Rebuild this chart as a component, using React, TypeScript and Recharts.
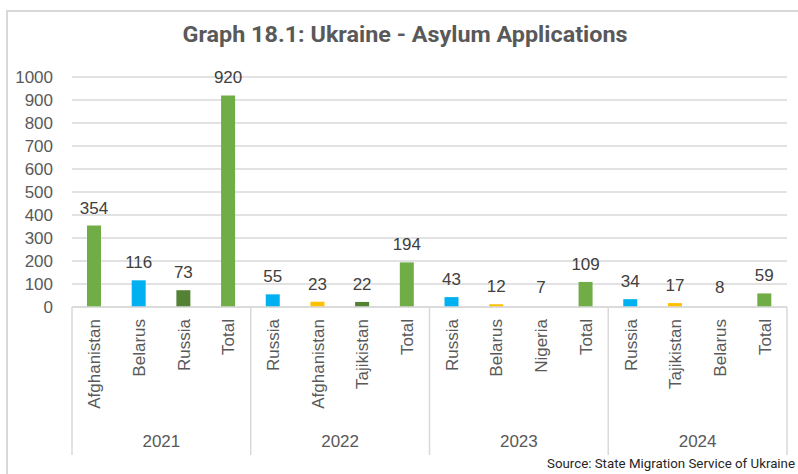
import { Bar, BarChart, CartesianGrid, Cell, LabelList, XAxis, YAxis } from "recharts";

const categories = [
  "Afghanistan", "Belarus", "Russia", "Total",
  "Russia", "Afghanistan", "Tajikistan", "Total",
  "Russia", "Belarus", "Nigeria", "Total",
  "Russia", "Tajikistan", "Belarus", "Total",
];
const years = [
  "2021", "2021", "2021", "2021",
  "2022", "2022", "2022", "2022",
  "2023", "2023", "2023", "2023",
  "2024", "2024", "2024", "2024",
];
const applications = [354, 116, 73, 920, 55, 23, 22, 194, 43, 12, 7, 109, 34, 17, 8, 59];
const barColors = [
  "#70AD47", "#00B0F0", "#548235", "#70AD47",
  "#00B0F0", "#FFC000", "#548235", "#70AD47",
  "#00B0F0", "#FFC000", "transparent", "#70AD47",
  "#00B0F0", "#FFC000", "transparent", "#70AD47",
];
const yTicks = [0, 100, 200, 300, 400, 500, 600, 700, 800, 900, 1000];

const W = 798;
const H = 474;
const margin = { top: 77, right: 11, left: 0, bottom: 17 };
const Y_AXIS_W = 72;
const PLOT_W = W - margin.left - margin.right - Y_AXIS_W;
const GROUP = 4;

const data = categories.map((c, i) => ({
  key: `${years[i]}-${c}`,
  value: applications[i],
  fill: barColors[i],
}));

const font = "'Liberation Sans', Arial, sans-serif";

function CategoryTick(props: any) {
  const { x, y, index } = props;
  const band = PLOT_W / categories.length;
  const left = x - band / 2;
  const right = x + band / 2;
  return (
    <g>
      <text
        transform={`translate(${x},${y + 12}) rotate(-90)`}
        textAnchor="end"
        dy="0.35em"
        fill="#595959"
        fontSize={17}
        fontFamily={font}
      >
        {categories[index]}
      </text>
      {index % GROUP === 0 && (
        <>
          <line x1={left} x2={left} y1={y} y2={y + 148} stroke="#d9d9d9" strokeWidth={1.5} />
          <text
            x={left + band * (GROUP / 2)}
            y={y + 134}
            dy="0.35em"
            textAnchor="middle"
            fill="#595959"
            fontSize={17}
            fontFamily={font}
          >
            {years[index]}
          </text>
        </>
      )}
      {index === categories.length - 1 && (
        <line x1={right} x2={right} y1={y} y2={y + 148} stroke="#d9d9d9" strokeWidth={1.5} />
      )}
    </g>
  );
}

export default function App() {
  return (
    <div style={{ position: "absolute", left: 0, top: 0, width: W, height: H, overflow: "hidden", background: "#fff" }}>
      <div
        style={{
          position: "absolute",
          left: 6,
          top: 10,
          width: 840,
          height: 520,
          border: "2px solid #d9d9d9",
          boxSizing: "border-box",
        }}
      />
      <svg width={W} height={H} style={{ position: "absolute", left: 0, top: 0 }}>
        <text
          x={405}
          y={42}
          textAnchor="middle"
          fill="#595959"
          fontSize={22}
          fontWeight={700}
          fontFamily="Roboto, sans-serif"
          textLength={445}
          lengthAdjust="spacingAndGlyphs"
        >
          Graph 18.1: Ukraine - Asylum Applications
        </text>
        <text
          x={795}
          y={468}
          textAnchor="end"
          fill="#262626"
          fontSize={13.5}
          fontFamily="Roboto, sans-serif"
          textLength={248}
          lengthAdjust="spacingAndGlyphs"
        >
          Source: State Migration Service of Ukraine
        </text>
      </svg>
      <div style={{ position: "absolute", left: 0, top: 0 }}>
        <BarChart width={W} height={H} data={data} margin={margin}>
          <CartesianGrid vertical={false} stroke="#d9d9d9" strokeWidth={1.5} />
          <XAxis
            dataKey="key"
            height={150}
            interval={0}
            tickLine={false}
            tickSize={0}
            tickMargin={0}
            axisLine={{ stroke: "#d9d9d9", strokeWidth: 1.5 }}
            tick={<CategoryTick />}
          />
          <YAxis
            width={Y_AXIS_W}
            domain={[0, 1000]}
            ticks={yTicks}
            interval={0}
            axisLine={false}
            tickLine={false}
            tickSize={0}
            tickMargin={19}
            tick={{ fill: "#595959", fontSize: 17, fontFamily: font }}
          />
          <Bar dataKey="value" barSize={14} isAnimationActive={false}>
            {data.map((d) => (
              <Cell key={d.key} fill={d.fill} />
            ))}
            <LabelList
              dataKey="value"
              position="top"
              offset={12}
              fill="#404040"
              fontSize={17}
              fontFamily={font}
            />
          </Bar>
        </BarChart>
      </div>
    </div>
  );
}
